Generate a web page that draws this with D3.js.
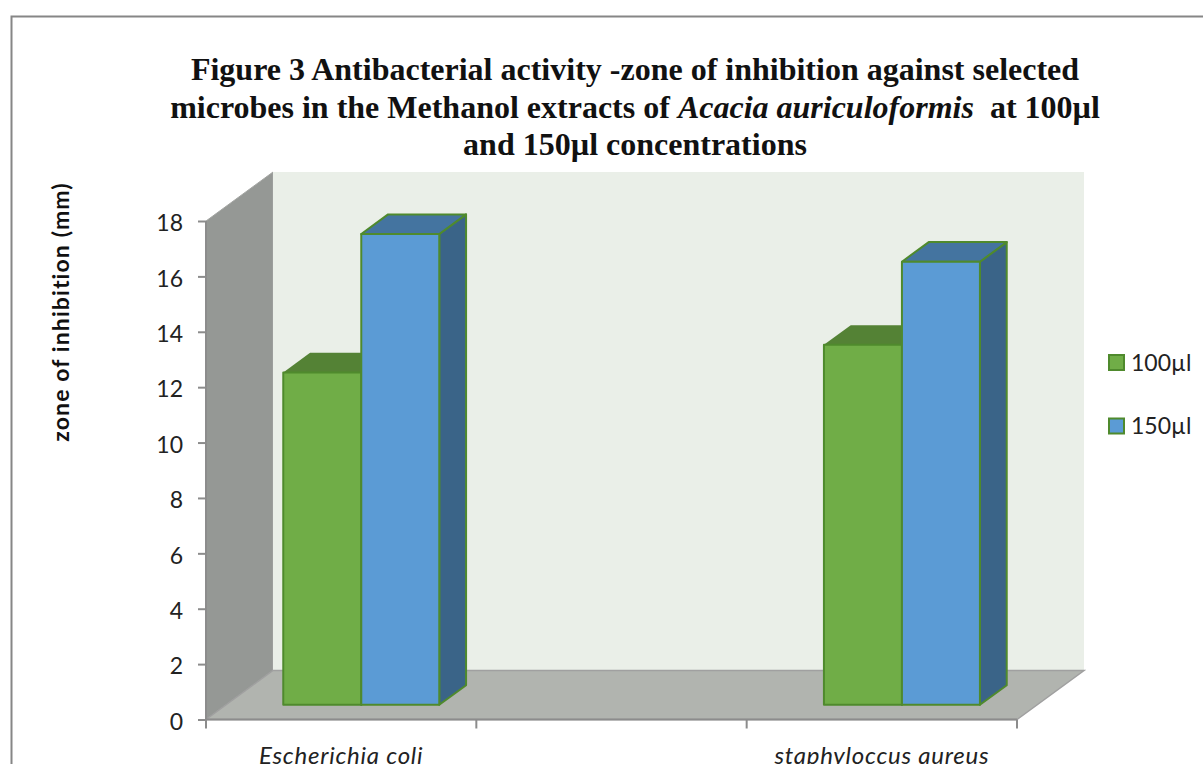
<!DOCTYPE html>
<html>
<head>
<meta charset="utf-8">
<script src="https://cdn.jsdelivr.net/npm/d3@7"></script>
<style>
  html, body { margin: 0; padding: 0; background: #fff; overflow: hidden; }
  svg { display: block; }
</style>
</head>
<body>
<div id="vis"></div>
<script>
// Chart values
const categories = ["Escherichia coli", "", "staphyloccus aureus"];
const seriesNames = ["100µl", "150µl"];
const values100 = [12, null, 13];
const values150 = [17, null, 16];
const yTicks = [0, 2, 4, 6, 8, 10, 12, 14, 16, 18];

const width = 1203;
const height = 764;

const svg = d3.select("#vis")
  .append("svg")
  .attr("width", width)
  .attr("height", height);

// Outer chart frame, runs off the right and bottom of the picture
svg.append("rect")
  .attr("x", 11.5)
  .attr("y", 16.5)
  .attr("width", 1300)
  .attr("height", 900)
  .attr("fill", "#fff")
  .attr("stroke", "#868686")
  .attr("stroke-width", 2);

// Scales for the front plane of the 3D box
const xScale = d3.scaleBand().domain(d3.range(categories.length)).range([206, 1017]);
const yScale = d3.scaleLinear().domain([0, 18]).range([719.5, 221]);
// depth goes from 0 (front) to 1 (back wall)
const depthX = d3.scaleLinear().domain([0, 1]).range([0, 67]);
const depthY = d3.scaleLinear().domain([0, 1]).range([0, -49]);

const project = (x, v, z) => [x + depthX(z), yScale(v) + depthY(z)];
const poly = pts => d3.line()(pts) + "Z";

const x0 = xScale.range()[0];
const x1 = xScale.range()[1];

// Side wall
svg.append("path")
  .attr("d", poly([project(x0, 0, 0), project(x0, 18, 0), project(x0, 18, 1), project(x0, 0, 1)]))
  .attr("fill", "#959895")
  .attr("stroke", "#a3a5a2")
  .attr("stroke-width", 1);

// Back wall
svg.append("path")
  .attr("d", poly([project(x0, 0, 1), project(x0, 18, 1), project(x1, 18, 1), project(x1, 0, 1)]))
  .attr("fill", "#eaefe8");

// Floor
svg.append("path")
  .attr("d", poly([project(x0, 0, 0), project(x0, 0, 1), project(x1, 0, 1), project(x1, 0, 0)]))
  .attr("fill", "#b1b4af")
  .attr("stroke", "#a0a0a0")
  .attr("stroke-width", 1.5);

// Y axis
const yAxis = svg.append("g")
  .attr("transform", `translate(${x0},0)`)
  .call(d3.axisLeft(yScale).tickValues(yTicks).tickSize(8).tickPadding(15));
yAxis.selectAll("line, path").attr("stroke", "#8c8c8c").attr("stroke-width", 2);
yAxis.select(".domain").attr("d", `M0,${yScale(18)}V${yScale(0)}`);
yAxis.selectAll("text")
  .attr("fill", "#222")
  .attr("dy", "0.42em")
  .style("font-family", "Lato, sans-serif")
  .style("font-size", "23px");

// X axis, ticks sit between the categories
const xTicks = svg.append("g");
xTicks.append("path")
  .attr("d", `M${x0},${yScale(0)}H${x1}`)
  .attr("stroke", "#8c8c8c")
  .attr("stroke-width", 2);
xTicks.selectAll("line")
  .data(d3.range(categories.length + 1))
  .enter()
  .append("line")
  .attr("x1", d => x0 + d * xScale.step())
  .attr("x2", d => x0 + d * xScale.step())
  .attr("y1", yScale(0))
  .attr("y2", yScale(0) + 9)
  .attr("stroke", "#8c8c8c")
  .attr("stroke-width", 2);

// Labels run off the bottom edge, same as the reference
svg.selectAll("text.cat")
  .data(categories)
  .enter()
  .append("text")
  .attr("class", "cat")
  .attr("x", (d, i) => xScale(i) + xScale.bandwidth() / 2)
  .attr("y", 764)
  .attr("text-anchor", "middle")
  .attr("fill", "#222")
  .style("font-family", "Lato, sans-serif")
  .style("font-style", "italic")
  .style("font-size", "24px")
  .style("letter-spacing", "0.75px")
  .text(d => d);

// Bars
const barScale = d3.scaleBand().domain([0, 1]).range([0, 156]);
const barFront = 0.3;
const barBack = 0.7;
const styles = [
  { front: "#70ad47", top: "#548235", side: "#548235" },
  { front: "#5b9bd5", top: "#4474a0", side: "#3a6488" }
];
const stroke = "#4f8a2d";

[values100, values150].forEach((vals, s) => {
  vals.forEach((v, i) => {
    if (v === null) return;
    // centre the pair on the band, at the front of the bar's depth
    const left = xScale(i) + xScale.bandwidth() / 2 - 78 + barScale(s);
    const right = left + barScale.bandwidth();
    const g = svg.append("g")
      .attr("stroke", stroke)
      .attr("stroke-width", 2)
      .attr("stroke-linejoin", "round");
    g.append("path")
      .attr("d", poly([project(right, 0, barFront), project(right, v, barFront), project(right, v, barBack), project(right, 0, barBack)]))
      .attr("fill", styles[s].side);
    g.append("path")
      .attr("d", poly([project(left, v, barFront), project(left, v, barBack), project(right, v, barBack), project(right, v, barFront)]))
      .attr("fill", styles[s].top)
      .attr("stroke", s === 0 ? "none" : stroke);
    g.append("path")
      .attr("d", poly([project(left, 0, barFront), project(left, v, barFront), project(right, v, barFront), project(right, 0, barFront)]))
      .attr("fill", styles[s].front);
  });
});

// Title
const titleFont = "'Liberation Serif', serif";
const title = svg.append("text")
  .attr("text-anchor", "middle")
  .attr("fill", "#111")
  .style("font-family", titleFont)
  .style("font-weight", "bold")
  .style("font-size", "32px");
title.append("tspan").attr("x", 635).attr("y", 80)
  .text("Figure 3 Antibacterial activity -zone of inhibition against selected");
const line2 = title.append("tspan").attr("x", 635).attr("y", 118);
line2.append("tspan").text("microbes in the Methanol extracts of ");
line2.append("tspan").style("font-style", "italic").text("Acacia auriculoformis");
line2.append("tspan").text("\u00a0 at 100µl");
title.append("tspan").attr("x", 635).attr("y", 155)
  .text("and 150µl concentrations");

// Y axis label
svg.append("text")
  .attr("transform", "translate(69,312) rotate(-90)")
  .attr("text-anchor", "middle")
  .attr("fill", "#111")
  .style("font-family", "Lato, sans-serif")
  .style("font-weight", "bold")
  .style("font-size", "23px")
  .style("letter-spacing", "1.1px")
  .text("zone of inhibition (mm)");

// Legend
const legendY = d3.scalePoint().domain(seriesNames).range([362.5, 426]);
const legend = svg.selectAll("g.legend")
  .data(seriesNames)
  .enter()
  .append("g")
  .attr("class", "legend")
  .attr("transform", d => `translate(1109,${legendY(d)})`);
legend.append("rect")
  .attr("x", 0)
  .attr("y", -7.5)
  .attr("width", 15)
  .attr("height", 15)
  .attr("fill", (d, i) => styles[i].front)
  .attr("stroke", stroke)
  .attr("stroke-width", 2);
legend.append("text")
  .attr("x", 22)
  .attr("y", 8)
  .attr("fill", "#222")
  .style("font-family", "Lato, sans-serif")
  .style("font-size", "23px")
  .text(d => d);
</script>
</body>
</html>
